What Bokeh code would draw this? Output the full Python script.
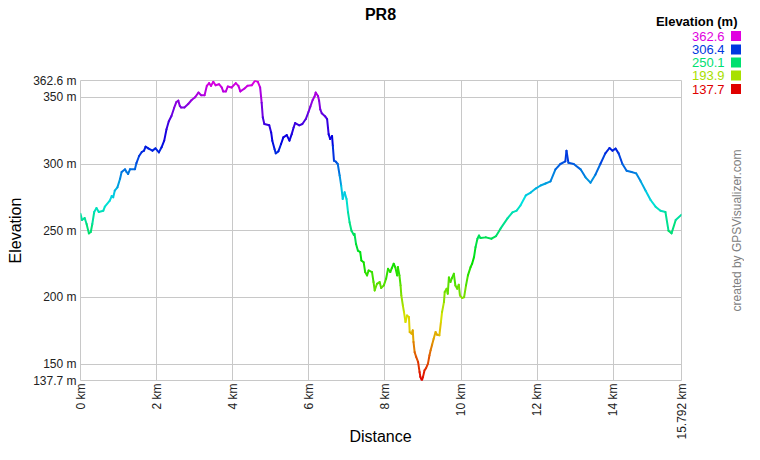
import math
import colorsys
from bokeh.plotting import figure
from bokeh.models import (Range1d, FixedTicker, CustomJSTickFormatter, Label,
                          ColumnDataSource)
from bokeh.embed import file_html
from bokeh.resources import INLINE

# ---- data ----
title_text = "PR8"
dist_km = [
    0.00, 0.04, 0.11, 0.16, 0.22, 0.27, 0.31, 0.36, 0.42, 0.48, 0.60, 0.64, 0.77, 0.82, 0.86, 0.90,
    0.97, 1.04, 1.08, 1.17, 1.21, 1.25, 1.30, 1.43, 1.47, 1.54, 1.61, 1.67, 1.71, 1.78, 1.89, 1.97,
    2.06, 2.13, 2.20, 2.26, 2.32, 2.39, 2.46, 2.52, 2.57, 2.61, 2.64, 2.73, 2.83, 2.92, 3.01, 3.10,
    3.17, 3.26, 3.32, 3.38, 3.43, 3.49, 3.55, 3.64, 3.71, 3.75, 3.82, 3.87, 3.97, 4.08, 4.15, 4.20,
    4.31, 4.39, 4.50, 4.59, 4.66, 4.72, 4.76, 4.79, 4.83, 4.96, 5.01, 5.04, 5.10, 5.13, 5.20, 5.27,
    5.33, 5.42, 5.49, 5.55, 5.60, 5.64, 5.75, 5.83, 5.92, 5.99, 6.04, 6.10, 6.15, 6.18, 6.24, 6.27,
    6.30, 6.34, 6.43, 6.48, 6.52, 6.56, 6.61, 6.63, 6.66, 6.71, 6.76, 6.81, 6.85, 6.89, 6.94, 6.99,
    7.03, 7.07, 7.12, 7.18, 7.20, 7.24, 7.29, 7.35, 7.38, 7.44, 7.48, 7.53, 7.57, 7.66, 7.70, 7.73,
    7.79, 7.86, 7.90, 7.97, 8.03, 8.08, 8.14, 8.18, 8.23, 8.27, 8.32, 8.34, 8.38, 8.41, 8.43, 8.47,
    8.50, 8.54, 8.58, 8.63, 8.65, 8.70, 8.73, 8.75, 8.78, 8.82, 8.87, 8.91, 8.93, 8.97, 9.00, 9.04,
    9.08, 9.13, 9.17, 9.20, 9.24, 9.28, 9.33, 9.37, 9.43, 9.47, 9.50, 9.55, 9.57, 9.62, 9.65, 9.68,
    9.72, 9.76, 9.81, 9.85, 9.90, 9.94, 9.97, 10.03, 10.08, 10.13, 10.18, 10.25, 10.29, 10.34, 10.38, 10.43,
    10.47, 10.51, 10.65, 10.80, 10.92, 11.04, 11.22, 11.35, 11.46, 11.56, 11.70, 11.83, 11.96, 12.09, 12.22, 12.35,
    12.48, 12.61, 12.74, 12.77, 12.82, 12.96, 13.14, 13.27, 13.40, 13.53, 13.66, 13.79, 13.90, 13.98, 14.06, 14.14,
    14.24, 14.35, 14.48, 14.60, 14.72, 14.85, 14.98, 15.11, 15.24, 15.37, 15.45, 15.53, 15.64, 15.792,
]
elev_m = [
    262.6, 258.0, 259.5, 255.0, 248.0, 249.0, 255.0, 264.0, 267.0, 264.0, 265.0, 268.0, 272.5, 276.0, 275.0, 280.0,
    282.5, 289.0, 294.0, 296.0, 294.0, 292.5, 296.0, 296.0, 300.7, 306.0, 309.0, 310.0, 313.0, 311.7, 310.0, 311.7,
    308.7, 312.5, 317.5, 326.0, 332.0, 336.0, 342.0, 346.5, 347.5, 343.5, 342.4, 342.4, 345.0, 348.0, 350.0, 353.6,
    351.6, 351.6, 358.6, 360.6, 358.6, 361.6, 359.0, 359.8, 357.4, 354.4, 354.4, 358.1, 357.4, 360.6, 358.6, 354.4,
    356.6, 358.6, 359.0, 362.6, 361.6, 357.4, 346.0, 335.0, 330.0, 329.0, 323.7, 317.5, 311.0, 308.0, 309.5, 315.0,
    320.0, 321.7, 317.5, 322.4, 327.4, 330.7, 329.0, 330.0, 333.7, 339.0, 343.0, 348.0, 350.6, 353.6, 351.0, 347.4,
    341.0, 338.0, 335.7, 333.7, 322.4, 318.7, 321.0, 313.7, 302.5, 301.7, 300.0, 291.3, 283.8, 273.8, 278.8, 273.8,
    263.8, 256.4, 250.0, 246.9, 247.6, 240.0, 235.0, 234.0, 227.7, 226.4, 219.0, 216.5, 220.2, 219.0, 211.5, 205.2,
    210.2, 211.5, 207.0, 209.0, 214.0, 221.4, 219.0, 222.0, 225.2, 222.7, 216.5, 222.7, 216.5, 209.0, 201.5, 194.0,
    189.0, 181.5, 186.5, 185.3, 174.0, 172.8, 175.3, 166.6, 159.0, 155.4, 151.6, 144.0, 140.4, 137.7, 140.4, 145.4,
    147.0, 150.4, 156.6, 160.4, 164.6, 169.0, 174.0, 172.0, 171.6, 181.5, 189.0, 196.5, 204.0, 206.5, 202.7, 215.0,
    211.5, 214.5, 217.7, 209.0, 206.5, 209.5, 201.5, 199.5, 200.2, 209.0, 216.5, 222.7, 225.2, 230.2, 237.7, 244.0,
    246.4, 244.5, 245.0, 244.0, 246.0, 251.7, 259.2, 263.7, 265.0, 268.9, 276.4, 278.6, 281.6, 283.9, 285.4, 287.0,
    296.0, 300.0, 302.0, 310.0, 301.0, 300.0, 296.0, 290.0, 286.0, 292.0, 300.0, 308.0, 312.0, 310.0, 311.5, 308.0,
    300.0, 295.0, 294.0, 293.0, 287.0, 280.0, 273.0, 268.0, 265.0, 264.0, 250.0, 248.0, 258.0, 262.0,
]
legend_title = "Elevation (m)"
legend_values = [362.6, 306.4, 250.1, 193.9, 137.7]
y_ticks = [137.7, 150, 200, 250, 300, 350, 362.6]
x_ticks = [0, 2, 4, 6, 8, 10, 12, 14, 15.792]
x_label = "Distance"
y_label = "Elevation"
credit = "created by GPSVisualizer.com"

EMIN, EMAX = min(legend_values), max(legend_values)
W, H = 744, 444
FONT = "Liberation Sans"


def elev_color(e):
    h = 300.0 * (e - EMIN) / (EMAX - EMIN)
    r, g, b = colorsys.hsv_to_rgb(h / 360.0, 1.0, 0.88)
    return "#%02x%02x%02x" % (int(round(r * 255)), int(round(g * 255)), int(round(b * 255)))


seg = ColumnDataSource(dict(
    x0=dist_km[:-1], x1=dist_km[1:], y0=elev_m[:-1], y1=elev_m[1:],
    c=[elev_color((a + b) / 2.0) for a, b in zip(elev_m[:-1], elev_m[1:])],
))

# ---------------- main chart ----------------
p = figure(width=W, height=H,
           x_range=Range1d(0, 15.792), y_range=Range1d(137.7, 362.6),
           output_backend="svg", toolbar_location=None,
           min_border_left=80, min_border_right=W - 681, min_border_top=80,
           min_border_bottom=H - 380)
p.background_fill_color = "white"
p.border_fill_color = "white"
p.outline_line_color = "#c8c8c8"

p.xaxis.ticker = FixedTicker(ticks=x_ticks, minor_ticks=[])
p.yaxis.ticker = FixedTicker(ticks=y_ticks, minor_ticks=[])
p.xaxis.formatter = CustomJSTickFormatter(code="return tick + ' km'")
p.yaxis.formatter = CustomJSTickFormatter(code="return tick + ' m'")
for ax in (p.xaxis, p.yaxis):
    ax.axis_line_color = None
    ax.major_tick_line_color = None
    ax.minor_tick_line_color = None
    ax.major_tick_out = 0
    ax.major_tick_in = 0
    ax.major_label_text_font = FONT
    ax.major_label_text_font_size = "12px"
    ax.major_label_text_color = "#222222"
p.xaxis.major_label_orientation = math.pi / 2
p.xaxis.major_label_standoff = 3
p.yaxis.major_label_standoff = 4
p.xgrid.grid_line_color = "#c8c8c8"
p.ygrid.grid_line_color = "#c8c8c8"

p.segment(x0="x0", y0="y0", x1="x1", y1="y1", line_color="c", line_width=2,
          line_cap="round", source=seg)

# ---------------- transparent overlay (separate root) for the texts around the frame ----------------
ov = figure(width=W, height=H, x_range=Range1d(0, W), y_range=Range1d(H, 0),
            x_axis_type=None, y_axis_type=None, output_backend="svg",
            toolbar_location=None, min_border=0, margin=(-H, 0, 0, 0))
ov.outline_line_color = None
ov.background_fill_alpha = 0
ov.border_fill_alpha = 0


def lab(text, X, Y, **kw):
    kw.setdefault("text_font", FONT)
    ov.add_layout(Label(x=X, y=Y, text=text, **kw))


lab(title_text, 380, 14, text_align="center", text_baseline="middle",
    text_font_size="16px", text_font_style="bold", text_color="#000000")
lab(y_label, 15, 230, angle=math.pi / 2, text_align="center", text_baseline="middle",
    text_font_size="16px", text_color="#000000")
lab(x_label, 380, 436, text_align="center", text_baseline="middle",
    text_font_size="16px", text_color="#000000")
lab(credit, 736, 230, angle=math.pi / 2, text_align="center", text_baseline="alphabetic",
    text_font_size="12px", text_color="#808080")
lab(legend_title, 737, 21, text_align="right", text_baseline="middle",
    text_font_size="13px", text_font_style="bold", text_color="#000000")

row_y = [35.5, 49, 62, 75, 88.5]
leg = ColumnDataSource(dict(
    x=[735.5] * len(legend_values), y=row_y,
    c=[elev_color(v) for v in legend_values],
))
ov.scatter(x="x", y="y", marker="square", size=10, fill_color="c", line_color=None, source=leg)
for v, yy in zip(legend_values, row_y):
    lab("%.1f" % v, 724, yy, text_align="right", text_baseline="middle",
        text_font_size="13px", text_color=elev_color(v))

open("out.html", "w").write(file_html([p, ov], INLINE))
